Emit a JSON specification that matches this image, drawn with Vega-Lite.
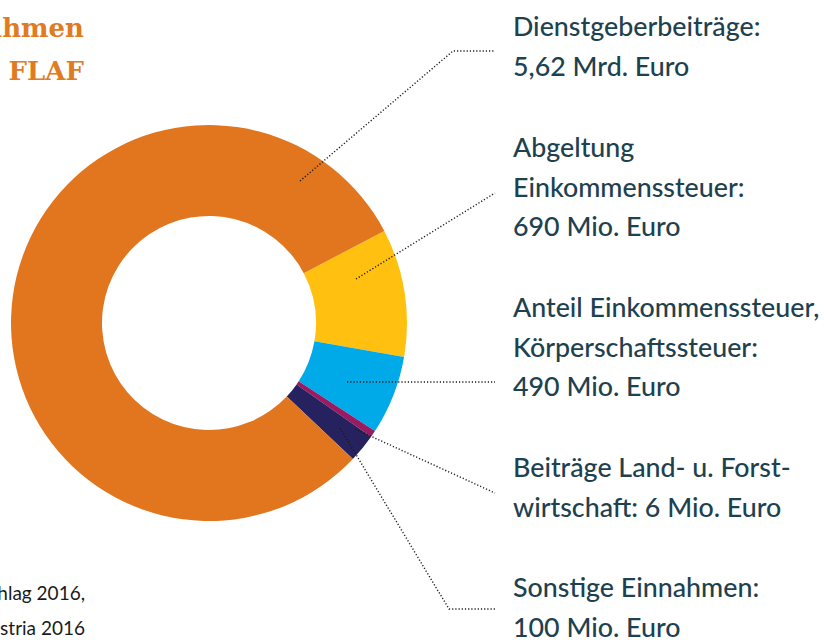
{
  "$schema": "https://vega.github.io/schema/vega-lite/v6.json",
  "width": 824,
  "height": 640,
  "padding": 0,
  "autosize": {"type": "none"},
  "background": "white",
  "config": {"view": {"stroke": null}},
  "datasets": {
    "slices": [
      {"name": "Abgeltung Einkommenssteuer", "value": 720, "order": 1},
      {"name": "Anteil Einkommenssteuer, Körperschaftssteuer", "value": 445, "order": 2},
      {"name": "Beiträge Land- u. Forstwirtschaft", "value": 38, "order": 3},
      {"name": "Sonstige Einnahmen", "value": 160, "order": 4},
      {"name": "Dienstgeberbeiträge", "value": 5540, "order": 5}
    ],
    "leaders": [
      {"id": "Dienstgeberbeiträge", "o": 1, "px": 300, "py": 181},
      {"id": "Dienstgeberbeiträge", "o": 2, "px": 453, "py": 51},
      {"id": "Dienstgeberbeiträge", "o": 3, "px": 494, "py": 51},
      {"id": "Abgeltung", "o": 1, "px": 356, "py": 279},
      {"id": "Abgeltung", "o": 2, "px": 495, "py": 193},
      {"id": "Anteil", "o": 1, "px": 347, "py": 382},
      {"id": "Anteil", "o": 2, "px": 495, "py": 382},
      {"id": "Land", "o": 1, "px": 355, "py": 429},
      {"id": "Land", "o": 2, "px": 495, "py": 493},
      {"id": "Sonstige", "o": 1, "px": 340, "py": 428},
      {"id": "Sonstige", "o": 2, "px": 449, "py": 609},
      {"id": "Sonstige", "o": 3, "px": 495, "py": 609}
    ],
    "labels": [
      {"label": "Dienstgeberbeiträge:\n5,62 Mrd. Euro", "px": 513, "py": 36},
      {"label": "Abgeltung\nEinkommenssteuer:\n690 Mio. Euro", "px": 513, "py": 157},
      {"label": "Anteil Einkommenssteuer,\nKörperschaftssteuer:\n490 Mio. Euro", "px": 513, "py": 317},
      {"label": "Beiträge Land- u. Forst-\nwirtschaft: 6 Mio. Euro", "px": 513, "py": 477},
      {"label": "Sonstige Einnahmen:\n100 Mio. Euro", "px": 513, "py": 597}
    ],
    "title": [
      {"t": "Einnahmen\ndes FLAF", "px": 84, "py": 37}
    ],
    "source": [
      {"t": "Quelle: Bundesvoranschlag 2016,\nStatistik Austria 2016", "px": 85, "py": 600}
    ]
  },
  "layer": [
    {
      "data": {"name": "slices"},
      "mark": {"type": "arc", "innerRadius": 107, "outerRadius": 198},
      "encoding": {
        "x": {"datum": 209, "type": "quantitative", "scale": {"domain": [0, 824], "nice": false, "zero": false}, "axis": null},
        "y": {"datum": 323, "type": "quantitative", "scale": {"domain": [0, 640], "nice": false, "zero": false, "reverse": true}, "axis": null},
        "theta": {"field": "value", "type": "quantitative", "stack": true, "scale": {"range": [1.0874, 7.3706]}},
        "order": {"field": "order", "type": "quantitative"},
        "color": {
          "field": "name",
          "type": "nominal",
          "scale": {
            "domain": ["Dienstgeberbeiträge", "Abgeltung Einkommenssteuer", "Anteil Einkommenssteuer, Körperschaftssteuer", "Beiträge Land- u. Forstwirtschaft", "Sonstige Einnahmen"],
            "range": ["#E2761F", "#FFC010", "#00A9E8", "#9B1B62", "#262260"]
          },
          "legend": null
        }
      }
    },
    {
      "data": {"name": "leaders"},
      "mark": {"type": "line", "strokeDash": [1.2, 2], "strokeWidth": 1.4, "color": "#1a1a1a"},
      "encoding": {
        "x": {"field": "px", "type": "quantitative"},
        "y": {"field": "py", "type": "quantitative"},
        "detail": {"field": "id"},
        "order": {"field": "o", "type": "quantitative"}
      }
    },
    {
      "data": {"name": "labels"},
      "mark": {"type": "text", "align": "left", "baseline": "alphabetic", "lineBreak": "\n", "lineHeight": 39.5, "font": "Lato", "fontSize": 26.8, "fontWeight": 500, "color": "#1E4150"},
      "encoding": {
        "x": {"field": "px", "type": "quantitative"},
        "y": {"field": "py", "type": "quantitative"},
        "text": {"field": "label"}
      }
    },
    {
      "data": {"name": "title"},
      "mark": {"type": "text", "align": "right", "baseline": "alphabetic", "lineBreak": "\n", "lineHeight": 43, "font": "DejaVu Serif", "fontWeight": "bold", "fontSize": 26, "color": "#E07B22"},
      "encoding": {
        "x": {"field": "px", "type": "quantitative"},
        "y": {"field": "py", "type": "quantitative"},
        "text": {"field": "t"}
      }
    },
    {
      "data": {"name": "source"},
      "mark": {"type": "text", "align": "right", "baseline": "alphabetic", "lineBreak": "\n", "lineHeight": 35, "font": "Lato", "fontSize": 19, "color": "#1a1a1a"},
      "encoding": {
        "x": {"field": "px", "type": "quantitative"},
        "y": {"field": "py", "type": "quantitative"},
        "text": {"field": "t"}
      }
    }
  ]
}
